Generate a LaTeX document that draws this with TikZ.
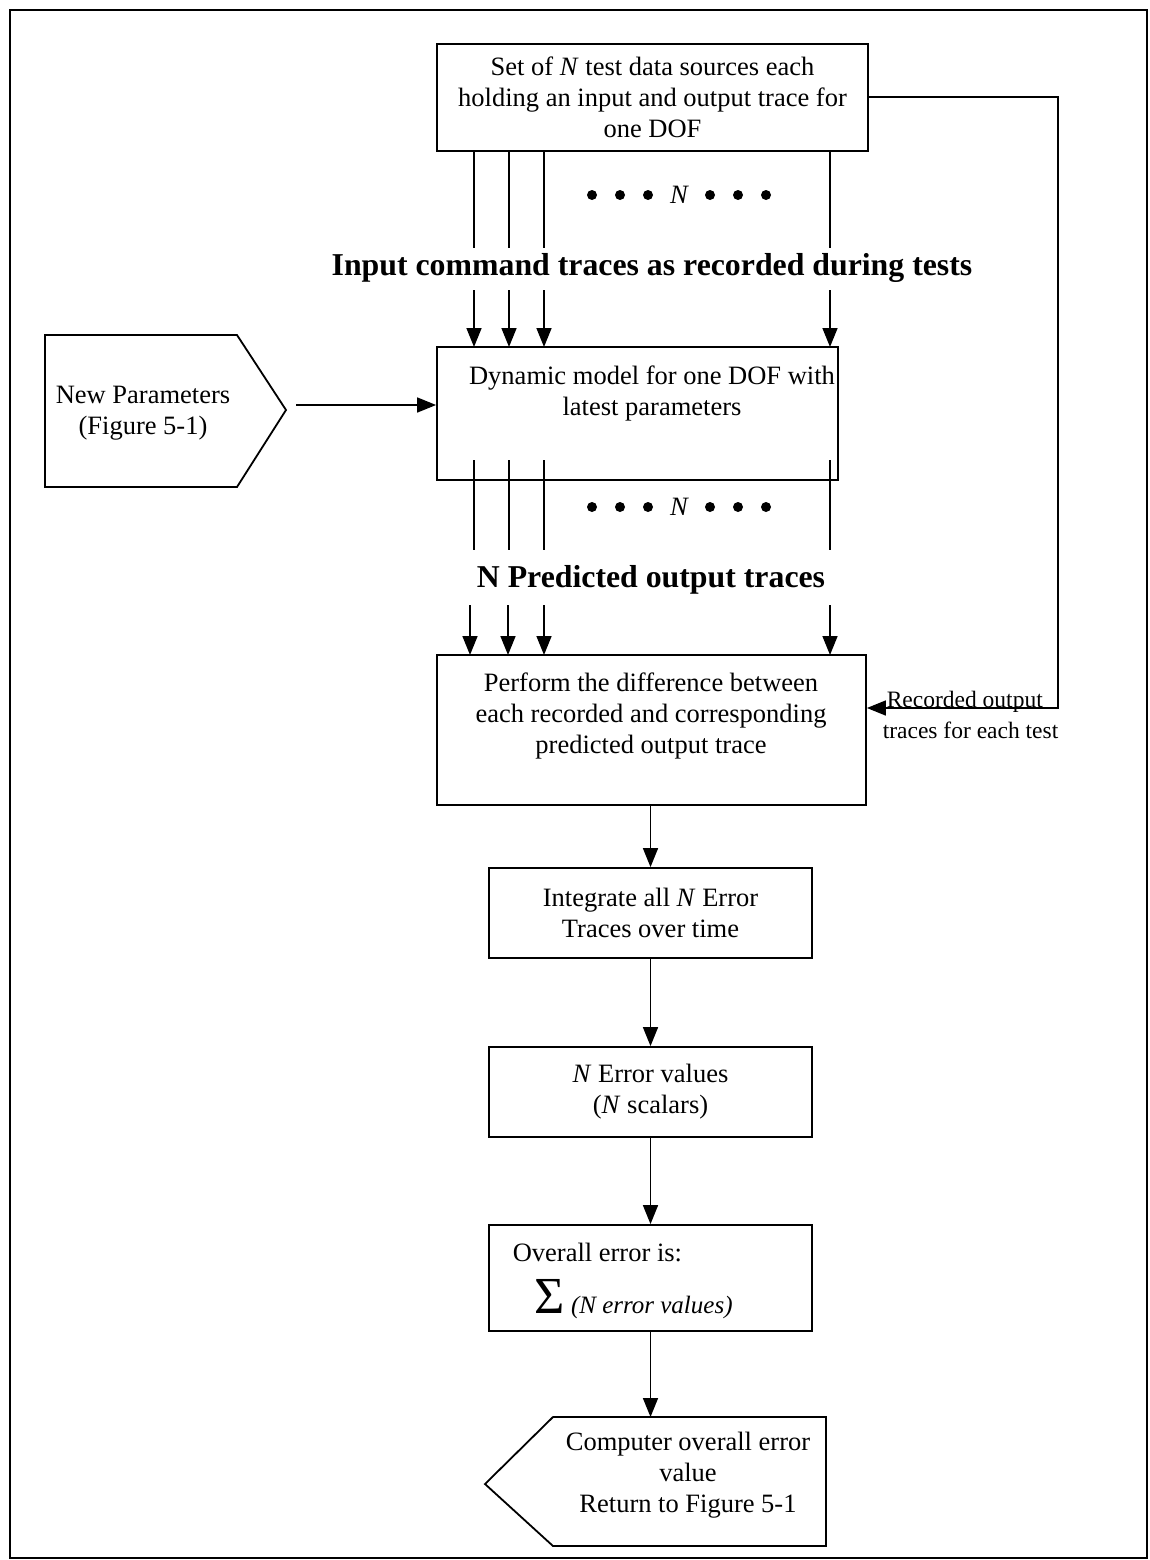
\documentclass[tikz,border=0pt]{standalone}
\usepackage{fontspec}
\setmainfont{Liberation Serif}
\usetikzlibrary{arrows.meta,calc}
\begin{document}
\begin{tikzpicture}[x=1pt,y=-1pt,
  line width=1.6pt,
  box/.style={draw, line width=1.8pt, inner sep=0pt, align=center, font=\fontsize{26.5}{31}\selectfont},
  txt/.style={inner sep=0pt, align=center, font=\fontsize{26.5}{31}\selectfont},
  head/.style={inner sep=0pt, font=\fontsize{31.8}{36}\selectfont\bfseries},
  arr/.style={-{Triangle[length=19pt,width=15pt]}},
  dot/.style={circle, fill, inner sep=0pt, minimum size=10pt}
]
\useasboundingbox (0,0) rectangle (1149,1560);
\draw[line width=2pt] (10,10) rectangle (1147,1558);

% top source box
\node[box, minimum width=431pt, minimum height=107pt] (src) at (652.5,97.5)
  {Set of \textit{N} test data sources each\\holding an input and output trace for\\one DOF};

% lines from source
\foreach \x/\n in {474/a1,509/a2,544/a3,830/a4}{
  \coordinate (s\n) at (\x,151);
  \coordinate (e\n) at (\x,248);
  \draw (s\n) -- (e\n);
}
\foreach \x [count=\i] in {592,620,648,710,738,766}{ \node[dot] (da\i) at (\x,195) {}; }
\node[txt, font=\fontsize{26.5}{31}\selectfont\itshape] (na) at (679,195) {N};

\node[head] (h1) at (652,268) {Input command traces as recorded during tests};

% dynamic model box
\node[box, minimum width=401pt, minimum height=133pt] (dyn) at (637.5,413.5) {};
\node[txt] (dyntxt) at (652,393) {Dynamic model for one DOF with\\latest parameters};

\foreach \x/\n in {474/b1,509/b2,544/b3,830/b4}{
  \coordinate (t\n) at (\x,290);
  \coordinate (u\n) at (\x,347);
  \draw[arr] (t\n) -- (u\n);
}

% new parameters pentagon
\coordinate (np1) at (45,335);
\coordinate (np2) at (237,335);
\coordinate (nptip) at (286,410);
\coordinate (np4) at (237,487);
\coordinate (np5) at (45,487);
\draw[line width=1.8pt] (np1) -- (np2) -- (nptip) -- (np4) -- (np5) -- cycle;
\node[txt] (nptxt) at (143,413) {New Parameters\\(Figure 5-1)};
\coordinate (npout) at (296,405);
\draw[arr] (npout) -- (dyn.west |- npout);

% lines below dynamic model
\foreach \x/\n in {474/c1,509/c2,544/c3,830/c4}{
  \coordinate (v\n) at (\x,460);
  \coordinate (w\n) at (\x,550);
  \draw (v\n) -- (w\n);
}
\foreach \x [count=\i] in {592,620,648,710,738,766}{ \node[dot] (db\i) at (\x,507) {}; }
\node[txt, font=\fontsize{26.5}{31}\selectfont\itshape] (nb) at (679,507) {N};

\node[head] (h2) at (651,580) {N Predicted output traces};

% perform box
\node[box, minimum width=429pt, minimum height=150pt] (perf) at (651.5,730) {};
\node[txt] (perftxt) at (651,716) {Perform the difference between\\each recorded and corresponding\\predicted output trace};

\foreach \x/\n in {470/d1,508/d2,544/d3,830/d4}{
  \coordinate (p\n) at (\x,605);
  \coordinate (q\n) at (\x,655);
  \draw[arr] (p\n) -- (q\n);
}

% feedback line
\coordinate (fb1) at (1058,97);
\coordinate (fb2) at (1058,708);
\draw[arr] (src.east |- fb1) -- (fb1) -- (fb2) -- (perf.east |- fb2);
\node[inner sep=0pt, anchor=base west, font=\fontsize{23.5}{28}\selectfont] (rec1) at (886,707) {Recorded output};
\node[inner sep=0pt, anchor=base west, font=\fontsize{23.5}{28}\selectfont] (rec2) at (882,738) {traces for each test};

% integrate box
\node[box, minimum width=323pt, minimum height=90pt] (integ) at (650.5,913) {Integrate all \textit{N} Error\\Traces over time};
\draw[arr] (perf.south -| integ.north) -- (integ.north);

% error values box
\node[box, minimum width=323pt, minimum height=90pt] (errv) at (650.5,1092) {\textit{N} Error values\\(\textit{N} scalars)};
\draw[arr] (integ.south) -- (errv.north);

% overall box
\node[box, minimum width=323pt, minimum height=106pt] (overall) at (650.5,1278) {};
\node[inner sep=0pt, anchor=base west, font=\fontsize{26.5}{31}\selectfont] (ovtxt) at (512,1261) {Overall error is:};
\node[inner sep=0pt, anchor=base west] (sumtxt) at (534,1313) {{\fontsize{52}{56}\selectfont Σ}\hspace{6pt}{\fontsize{25}{30}\selectfont\itshape (N error values)}};
\draw[arr] (errv.south) -- (overall.north);

% return pentagon
\coordinate (rp1) at (553,1417);
\coordinate (rp2) at (826,1417);
\coordinate (rp3) at (826,1546);
\coordinate (rp4) at (553,1546);
\coordinate (rptip) at (485,1484);
\draw[line width=1.8pt] (rp1) -- (rp2) -- (rp3) -- (rp4) -- (rptip) -- cycle;
\node[txt] (rptxt) at (688,1475) {Computer overall error\\value\\Return to Figure 5-1};
\coordinate (rptop) at (650.5,1417);
\draw[arr] (overall.south) -- (rptop);
\end{tikzpicture}
\end{document}
